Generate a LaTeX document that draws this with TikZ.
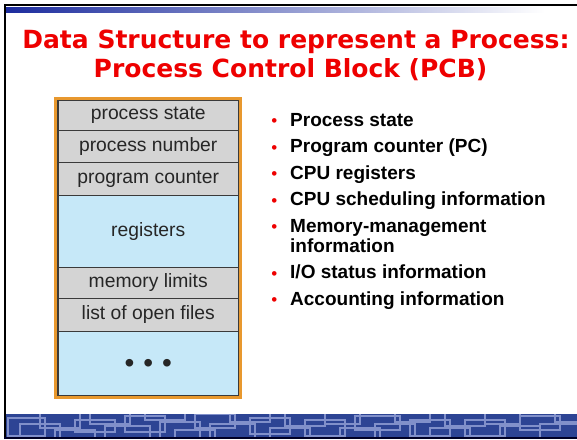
\documentclass[tikz,border=0pt]{standalone}
\usepackage{fontspec}
\usetikzlibrary{positioning}

\newfontfamily\titlefont{DejaVu Sans}
\newfontfamily\cellfont{Liberation Sans}

\definecolor{titlered}{HTML}{EE0000}
\definecolor{bardark}{HTML}{1C2C9E}
\definecolor{bandblue}{HTML}{2D4494}
\definecolor{bandline}{HTML}{8190CA}
\definecolor{cellgray}{HTML}{D4D4D4}
\definecolor{cellblue}{HTML}{C6E8F8}
\definecolor{celledge}{HTML}{3A3A3A}
\definecolor{frameorange}{HTML}{E8982E}

\tikzset{
  titletext/.style={anchor=base,inner sep=0pt,text=titlered,font=\titlefont\bfseries\fontsize{25}{30}\selectfont},
  pcbcell/.style={draw=celledge,line width=1pt,fill=cellgray,minimum width=180.5pt,inner sep=0pt,outer sep=0pt,text=black!85,font=\cellfont\fontsize{19.3}{22}\selectfont},
  pcbwide/.style={pcbcell,fill=cellblue},
  bulletdot/.style={inner sep=0pt,text=titlered,font=\cellfont\fontsize{17}{18}\selectfont},
  bullettext/.style={anchor=base west,inner sep=0pt,align=left,font=\cellfont\bfseries\fontsize{19}{20}\selectfont},
}

\begin{document}
\begin{tikzpicture}[x=1pt,y=-1pt]

    % page
    \fill[white] (0,0) rectangle (577,439);
    \useasboundingbox (0,0) rectangle (577,439);

    % slide frame and top bar
    \draw[black,line width=2pt] (5,439) -- (5,5) -- (577,5);
    \shade[left color=bardark,right color=white] (6,7.3) rectangle (545,12.3);

    % title
    \node[titletext] (titletop) at (296,48.3) {Data Structure to represent a Process:};
    \node[titletext] (titlebottom) at (290.5,77.7) {Process Control Block (PCB)};

    %%%%%%%%%%%%%%%%%%%%%%%%%%%%%%%%%%%%%%%%%%%%%%%%%%%%%%

    % process control block
    \node[pcbcell,minimum height=30.4pt] (pstate) at (148.25,115.5) {process state};
    \node[pcbcell,minimum height=32pt,below=0pt of pstate] (pnumber) {process number};
    \node[pcbcell,minimum height=32.3pt,below=0pt of pnumber] (pcounter) {program counter};
    \node[pcbwide,minimum height=72.3pt,below=0pt of pcounter] (registers) {registers};
    \node[pcbcell,minimum height=31pt,below=0pt of registers] (memlimits) {memory limits};
    \node[pcbcell,minimum height=32.7pt,below=0pt of memlimits] (openfiles) {list of open files};
    \node[pcbwide,minimum height=64.3pt,below=0pt of openfiles,font=\cellfont\fontsize{28}{30}\selectfont] (more) {\raisebox{-9pt}[0pt][0pt]{•\hspace{9pt}•\hspace{9pt}•}};

    % block edges
    \draw[celledge,line width=1.5pt] (pstate.north west) rectangle (more.south east);
    \draw[frameorange,line width=3pt] ([shift={(-2.4pt,2.3pt)}]pstate.north west) rectangle ([shift={(2.4pt,-2.3pt)}]more.south east);

    %%%%%%%%%%%%%%%%%%%%%%%%%%%%%%%%%%%%%%%%%%%%%%%%%%%%%%

    % list of fields (\y = last baseline, \d = bullet height)
    \foreach \i/\y/\d/\txt in {1/126/123/Process state,2/152.5/149.5/Program counter (PC),
        3/179/176/CPU registers,4/205.5/202.5/CPU scheduling information,
        5/252/229/{Memory-management\\information},
        6/278.5/275.5/{I/O status information},7/305/302/Accounting information}{
        \node[bulletdot] (dot\i) at (274.3,\d) {•};
        \node[bullettext] (item\i) at (290,\y) {\txt};
    }

    %%%%%%%%%%%%%%%%%%%%%%%%%%%%%%%%%%%%%%%%%%%%%%%%%%%%%%

    % bottom band
    \fill[bandblue] (6,414) rectangle (577,436.5);
    \begin{scope}
        \clip (6,414) rectangle (577,436.5);
        \foreach \xa/\ya/\xb/\yb in {8/418/45/436,20/424/60/445,40/410/80/428,55/430/95/445,
            75/420/115/432,90/412/130/424,105/426/150/440,125/416/165/432,145/410/185/420,
            160/422/200/438,175/430/215/445,195/414/235/428,210/424/255/440,230/410/270/422,
            250/418/290/434,270/428/310/445,285/412/325/426,305/420/345/436,325/410/360/424,
            340/428/380/445,355/416/400/430,375/424/415/440,395/410/430/422,410/420/450/436,
            430/428/470/445,445/412/485/426,465/420/505/436,485/410/520/424,500/426/540/442,
            520/416/560/430,540/424/580/440,555/410/590/422}{
            \draw[bandline,line width=1.5pt] (\xa,\ya) rectangle (\xb,\yb);
        }
    \end{scope}
    \fill[black!85!blue] (4,436.5) rectangle (577,439);

\end{tikzpicture}
\end{document}
